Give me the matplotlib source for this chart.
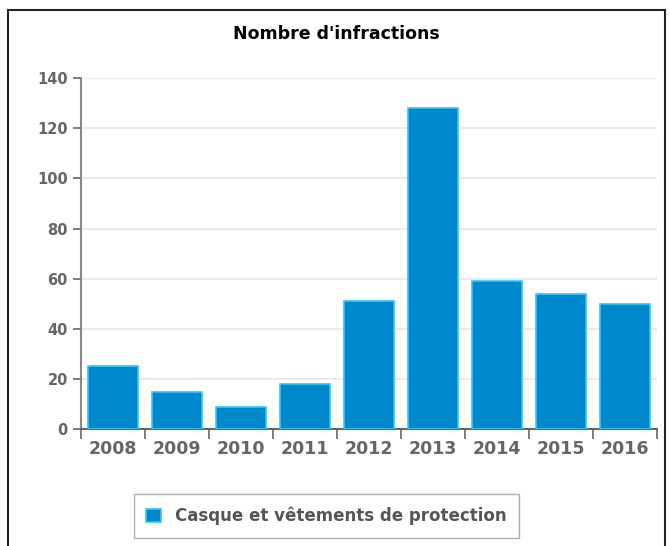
import numpy as np
import matplotlib
matplotlib.use('Agg')
import matplotlib.pyplot as plt
from matplotlib.patches import Rectangle

years = ['2008', '2009', '2010', '2011', '2012', '2013', '2014', '2015', '2016']
values = [25, 15, 9, 18, 51, 128, 59, 54, 50]
series_name = 'Casque et vêtements de protection'
title = "Nombre d'infractions"

fig = plt.figure(figsize=(6.7, 5.46), dpi=100)
ax = fig.add_axes([0.121, 0.214, 0.860, 0.643])

x = np.arange(len(years))
bars = ax.bar(x, values, width=0.78, color='#0088cc', edgecolor='#35c8f5',
              linewidth=1.2, label=series_name, zorder=3)

ax.set_xlim(-0.5, len(years) - 0.5)
ax.set_ylim(0, 140)
ax.set_yticks(np.arange(0, 141, 20))
ax.set_xticks(x)
ax.set_xticklabels(years)
ax.set_xticks(np.arange(-0.5, len(years)), minor=True)
ax.tick_params(axis='x', which='major', length=0, pad=8, labelsize=12.5, labelcolor='#666666')
ax.tick_params(axis='x', which='minor', length=7, width=1.2, color='#666666', direction='out')
ax.tick_params(axis='y', length=6, width=1.2, color='#666666', labelsize=10.5, labelcolor='#666666')
for t in ax.get_xticklabels() + ax.get_yticklabels():
    t.set_fontweight('bold')

ax.grid(axis='y', color='#e6e6e6', linewidth=1.2, zorder=0)
for s in ['top', 'right']:
    ax.spines[s].set_visible(False)
ax.spines['left'].set_color('#888888')
ax.spines['left'].set_linewidth(1.5)
ax.spines['bottom'].set_color('#666666')
ax.spines['bottom'].set_linewidth(1.5)

fig.text(0.502, 0.938, title, ha='center', va='center', fontsize=12.5,
         color='black', fontweight='semibold')

leg = fig.legend(handles=[bars], labels=[series_name], loc='center',
                 bbox_to_anchor=(0.487, 0.055), frameon=True, fancybox=False,
                 fontsize=12, handlelength=0.9, handleheight=0.9,
                 borderpad=0.75, handletextpad=0.8, borderaxespad=0)
leg.get_frame().set_edgecolor('#999999')
leg.get_frame().set_linewidth(1.0)
for t in leg.get_texts():
    t.set_color('#555555')
    t.set_fontweight('semibold')

# outer frame of the chart
fig.patches.append(Rectangle((0.012, -0.05), 0.98, 1.032, transform=fig.transFigure,
                             fill=False, edgecolor='#222222', linewidth=1.5))

fig.savefig('out.png', dpi=100)
